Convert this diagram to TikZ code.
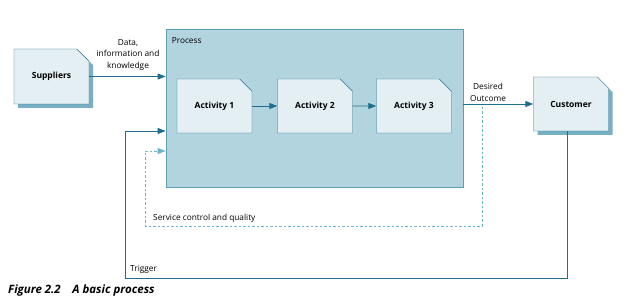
\documentclass[tikz,border=0pt]{standalone}
\usepackage{fontspec}
\setmainfont{Open Sans}
\usetikzlibrary{arrows.meta,positioning,shapes.misc,shadows}

\definecolor{linec}{HTML}{1F6E8F}
\definecolor{procfill}{HTML}{B2D4DE}
\definecolor{procline}{HTML}{5E9DB6}
\definecolor{actfill}{HTML}{E4EFF3}
\definecolor{shadowc}{HTML}{78AFC3}
\definecolor{dashc}{HTML}{6CB4CB}

\begin{document}
\begin{tikzpicture}[x=1pt,y=-1pt,
    doc/.style={draw=linec, fill=actfill, chamfered rectangle, chamfered rectangle corners=north east,
        chamfered rectangle xsep=8pt, chamfered rectangle ysep=8pt, inner sep=0pt,
        minimum width=75pt, minimum height=54pt, font=\bfseries\fontsize{8.5}{10}\selectfont},
    ext/.style={doc, drop shadow={shadow xshift=4pt, shadow yshift=-4pt, fill=shadowc, opacity=1}},
    lbl/.style={font=\fontsize{8.3}{11.5}\selectfont, inner sep=0pt, align=center},
    arr/.style={-{Triangle[length=8pt,width=6pt]}, draw=linec, line width=0.9pt},
    dasharr/.style={-{Triangle[length=8pt,width=6pt]}, draw=dashc, line width=0.9pt, dash pattern=on 2.5pt off 2pt}
]
\useasboundingbox[fill=white] (0,0) rectangle (625,307);

\node[draw=procline, fill=procfill, line width=0.8pt, minimum width=297pt, minimum height=158pt] (process) at (314.5,108) {};
\node[lbl, anchor=north west] (proclbl) at ([shift={(6pt,-9pt)}]process.north west) {Process};

\node[doc] (a1) at (214.5,106) {Activity 1};
\node[doc] (a2) at (315,106) {Activity 2};
\node[doc] (a3) at (414,106) {Activity 3};

\node[ext, minimum height=55pt] (sup) at (51.5,76.5) {Suppliers};
\node[ext] (cust) at (571,104) {Customer};

\draw[arr] (sup.east) -- (sup.east -| process.west);
\node[lbl] (datalbl) at (128,55) {Data,\\information and\\knowledge};

\draw[arr] (a1) -- (a2);
\draw[arr] (a2) -- (a3);

\draw[arr] (process.east |- cust.west) -- (cust.west);
\node[lbl] (outlbl) at (488,92.5) {Desired\\Outcome};

% service control loop
\coordinate (qa) at (482,107);
\coordinate (qb) at (145,226);
\draw[dasharr] (qa) |- (qb) |- ([yshift=-43pt]process.west);
\node[lbl, anchor=west] (qlbl) at (153,218) {Service control and quality};

% trigger loop
\coordinate (trig) at (125,278);
\draw[arr] ([xshift=-4pt]cust.south) |- (trig) |- ([yshift=-23pt]process.west);
\node[lbl, anchor=west] (triglbl) at (130,269) {Trigger};

\node[anchor=west, inner sep=0pt, font=\bfseries\itshape\fontsize{11.5}{13}\selectfont] (cap) at (8,291) {Figure 2.2\hspace{1em}A basic process};
\end{tikzpicture}
\end{document}
